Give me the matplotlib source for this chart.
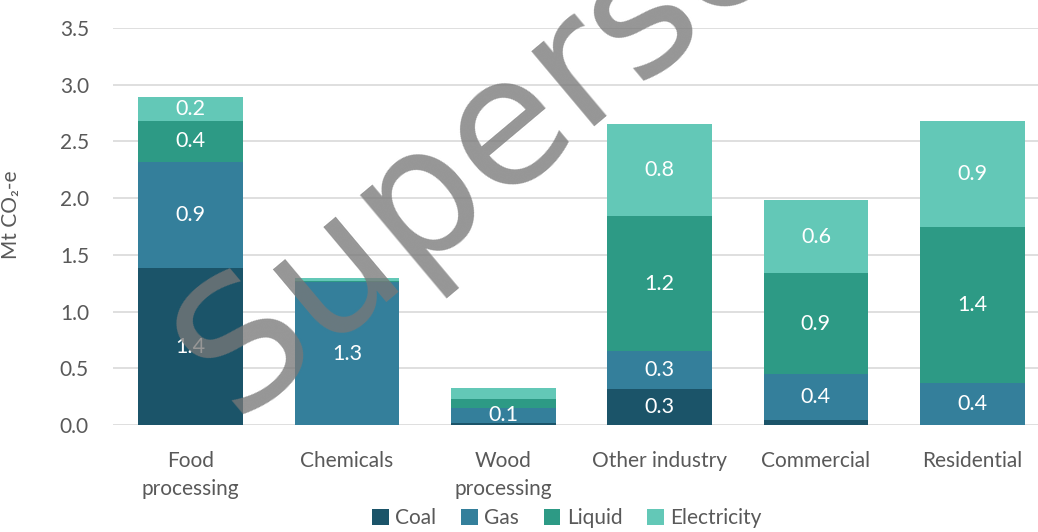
import matplotlib.pyplot as plt
import numpy as np

# Datos (Mt CO2-e)
categories = ["Food\nprocessing", "Chemicals", "Wood\nprocessing", "Other industry", "Commercial", "Residential"]
coal = [1.38, 0.0, 0.02, 0.32, 0.04, 0.0]
gas = [0.94, 1.26, 0.13, 0.33, 0.41, 0.37]
liquid = [0.36, 0.01, 0.08, 1.19, 0.89, 1.38]
electricity = [0.21, 0.03, 0.10, 0.81, 0.64, 0.93]

series_names = ["Coal", "Gas", "Liquid", "Electricity"]
colors = ["#1b5469", "#347f9b", "#2d9a85", "#63c8b7"]

plt.rcParams['font.family'] = ['Lato', 'DejaVu Sans']

fig = plt.figure(figsize=(10.38, 5.32), dpi=100)
ax = fig.add_axes([0.1084, 0.2011, 0.9035, 0.7462])

x = np.arange(len(categories))
bottom = np.zeros(len(categories))
for name, vals, col in zip(series_names, [coal, gas, liquid, electricity], colors):
    vals = np.array(vals)
    ax.bar(x, vals, 0.67, bottom=bottom, color=col, label=name, zorder=2)
    for xi, b, v in zip(x, bottom, vals):
        if v >= 0.12:
            ax.text(xi, b + v / 2, f"{v:.1f}", ha='center', va='center',
                    color='white', fontsize=15.5, zorder=3)
    bottom += vals

ax.set_xlim(-0.5, 5.5)
ax.set_ylim(0, 3.5)
ax.set_yticks(np.arange(0, 3.51, 0.5))
ax.set_yticklabels([f"{v:.1f}" for v in np.arange(0, 3.51, 0.5)])
ax.set_xticks(x)
ax.set_xticklabels(categories, linespacing=1.45)
ax.tick_params(axis='both', length=0, labelsize=15, colors='#595959')
ax.tick_params(axis='y', pad=17)
ax.tick_params(axis='x', pad=19)
ax.grid(axis='y', color='#d9d9d9', linewidth=1.2, zorder=0)
ax.set_axisbelow(True)
for s in ax.spines.values():
    s.set_visible(False)

ax.set_ylabel("Mt CO₂-e", fontsize=15, color='#595959')
ax.yaxis.set_label_coords(-0.0976, 0.529)

fig.legend(loc='center', bbox_to_anchor=(0.546, 0.026), ncol=4, frameon=False,
           fontsize=15, handlelength=0.8, handleheight=0.8, handletextpad=0.3,
           columnspacing=1.2, labelcolor='#595959')

# marca de agua
fig.text(0.2257, 0.2132, "Superseded", rotation=40, rotation_mode='anchor',
         ha='left', va='baseline', fontsize=129, color='#787878', alpha=0.78,
         family='DejaVu Sans', zorder=10)

fig.savefig("out.png", dpi=100)
